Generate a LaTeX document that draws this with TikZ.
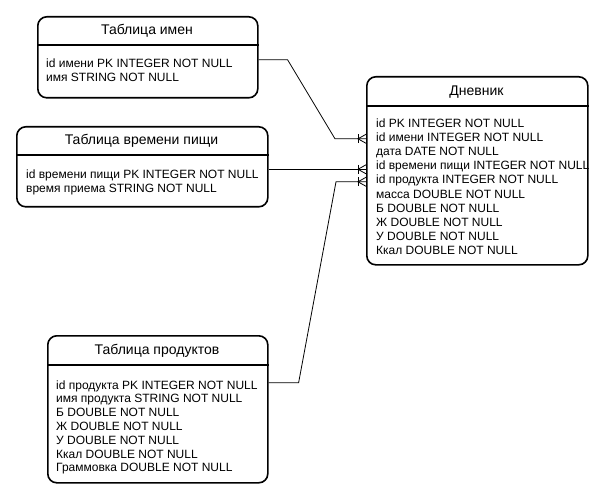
\documentclass[tikz,border=0pt]{standalone}
\usepackage{fontspec}
\setmainfont{Liberation Sans}
\begin{document}
\begin{tikzpicture}[x=1pt,y=-1pt,
  tbl/.style={draw=black, line width=1.6pt, rounded corners=9pt, anchor=north west, inner sep=0pt, fill=white},
  divline/.style={draw=black, line width=1.6pt},
  ttl/.style={font=\fontsize{14}{16}\selectfont, inner sep=0pt},
  body/.style={font=\fontsize{12}{#1}\selectfont, align=left, anchor=north west, inner sep=0pt},
  body/.default=14,
  conn/.style={draw=black, line width=0.8pt},
  pics/crow/.style={code={
    \draw[line width=0.8pt] (-8,-4.5) -- (-8,4.5);
    \draw[line width=0.8pt] (0,-4.5) -- (-8,0) -- (0,4.5);
  }}]
\useasboundingbox (0,0) rectangle (605,497);
\fill[white] (0,0) rectangle (605,497);

% tables
\node[tbl, minimum width=220pt, minimum height=81pt] (names) at (37,16) {};
\draw[divline] ([yshift=-29pt]names.north west) -- ([yshift=-29pt]names.north east);
\node[ttl] (namesT) at (147,31) {Таблица имен};
\node[body] (namesB) at (46,58.6) {id имени PK INTEGER NOT NULL\\имя STRING NOT NULL};

\node[tbl, minimum width=251pt, minimum height=80pt] (meals) at (16,126) {};
\draw[divline] ([yshift=-29pt]meals.north west) -- ([yshift=-29pt]meals.north east);
\node[ttl] (mealsT) at (141.5,141) {Таблица времени пищи};
\node[body] (mealsB) at (26,169.6) {id времени пищи PK INTEGER NOT NULL\\время приема STRING NOT NULL};

\node[tbl, minimum width=221pt, minimum height=188pt] (diary) at (366,76) {};
\draw[divline] ([yshift=-30pt]diary.north west) -- ([yshift=-30pt]diary.north east);
\node[ttl] (diaryT) at (476.5,92) {Дневник};
\node[body=14.15] (diaryB) at (376,118.4) {id PK INTEGER NOT NULL\\id имени INTEGER NOT NULL\\дата DATE NOT NULL\\id времени пищи INTEGER NOT NULL\\id продукта INTEGER NOT NULL\\масса DOUBLE NOT NULL\\Б DOUBLE NOT NULL\\Ж DOUBLE NOT NULL\\У DOUBLE NOT NULL\\Ккал DOUBLE NOT NULL};

\node[tbl, minimum width=220pt, minimum height=147pt] (prods) at (47,335) {};
\draw[divline] ([yshift=-30pt]prods.north west) -- ([yshift=-30pt]prods.north east);
\node[ttl] (prodsT) at (157,351) {Таблица продуктов};
\node[body=13.8] (prodsB) at (56,380.2) {id продукта PK INTEGER NOT NULL\\имя продукта STRING NOT NULL\\Б DOUBLE NOT NULL\\Ж DOUBLE NOT NULL\\У DOUBLE NOT NULL\\Ккал DOUBLE NOT NULL\\Граммовка DOUBLE NOT NULL};

% connectors
\draw[conn] ([yshift=-2.5pt]names.east) -- ++(29,0) -- ([xshift=-31pt,yshift=32pt]diary.west) -- ([yshift=32pt]diary.west);
\draw[conn] ([yshift=-2.5pt]meals.east) -- ([yshift=1.5pt]diary.west);
\draw[conn] ([yshift=26.5pt]prods.east) -- ++(30,0) -- ([xshift=-30pt,yshift=-11pt]diary.west) -- ([yshift=-11pt]diary.west);
\pic at ([yshift=32pt]diary.west) {crow};
\pic at ([yshift=1.5pt]diary.west) {crow};
\pic at ([yshift=-11pt]diary.west) {crow};
\end{tikzpicture}
\end{document}
